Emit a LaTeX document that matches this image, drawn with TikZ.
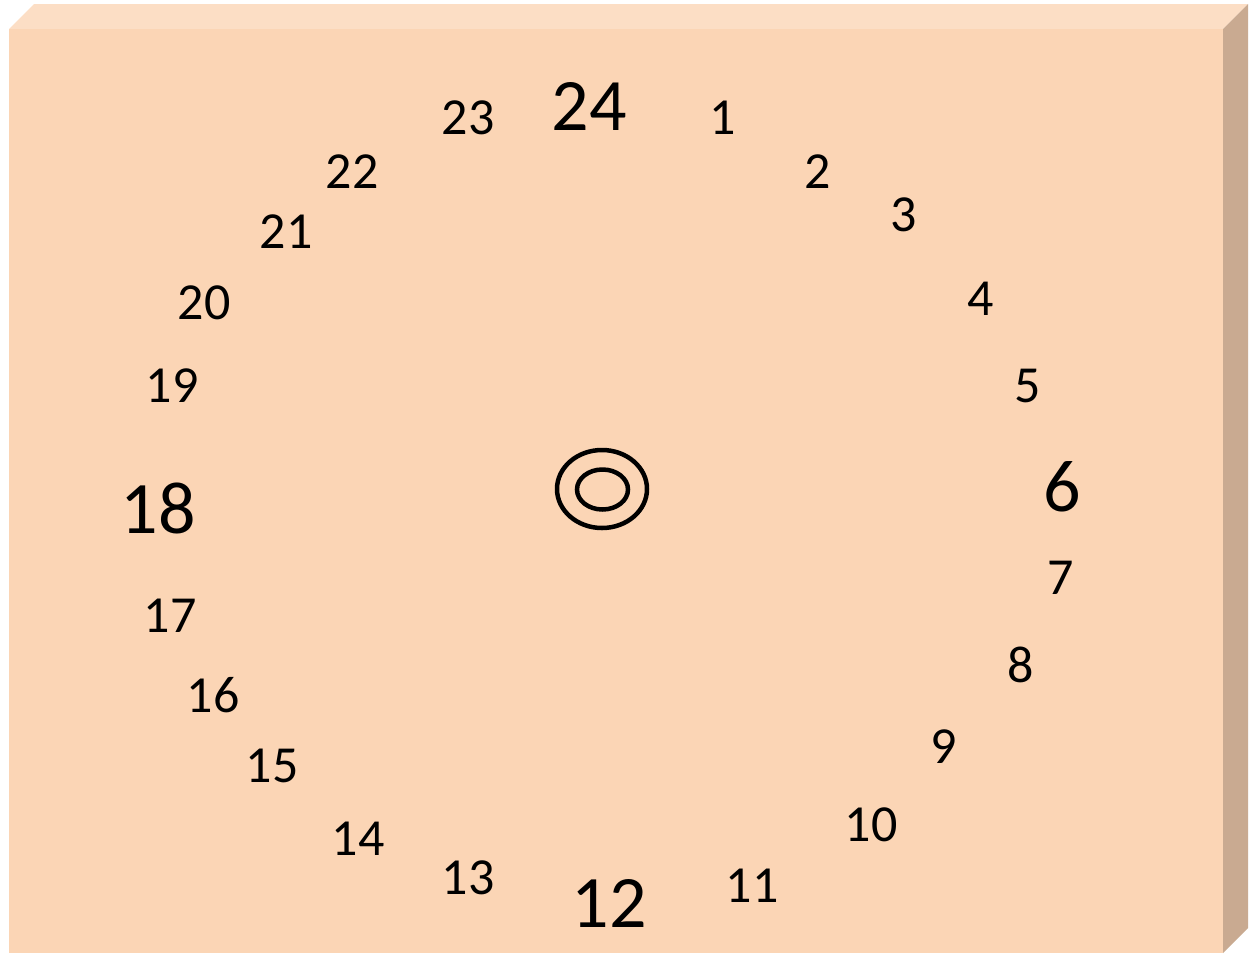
\documentclass[tikz,border=0pt]{standalone}
\usepackage{fontspec}
\setmainfont{Carlito}
\definecolor{frontc}{RGB}{251,213,181}
\definecolor{topc}{RGB}{252,222,197}
\definecolor{sidec}{RGB}{201,170,145}
\tikzset{
  num/.style={inner sep=0pt, font=\fontsize{52}{60}\selectfont},
  bignum/.style={inner sep=0pt, font=\fontsize{74}{86}\selectfont},
  ring/.style={draw=black, line width=4.5pt}
}
\begin{document}
\begin{tikzpicture}[x=1pt,y=-1pt]
\useasboundingbox (0,0) rectangle (1255,956);
% box
\fill[topc] (9,29) -- (34,4) -- (1248,4) -- (1223,29) -- cycle;
\fill[sidec] (1223,29) -- (1248,4) -- (1248,928) -- (1223,953) -- cycle;
\fill[frontc] (9,29) rectangle (1223,953);
% centre rings
\draw[ring] (602,489) ellipse [x radius=45pt, y radius=39pt];
\draw[ring] (602.5,489.5) ellipse [x radius=25.5pt, y radius=20pt];
% numbers
\node[bignum] (n24) at (589,106) {24};
\node[bignum] (n6) at (1062,487) {6};
\node[bignum] (n12) at (609,903) {12};
\node[bignum] (n18) at (158,508) {18};
\foreach \t/\x/\y in {1/723/118, 2/818/172, 3/904/215, 4/981/299, 5/1028/386,
  7/1061/578, 8/1021/665, 9/944/747, 10/871/825, 11/752/886,
  13/468/878, 14/358/839, 15/272/766, 16/213/695, 17/170/616,
  19/172/386, 20/204/303, 21/286/232, 22/352/172, 23/468/118}
  \node[num] (n\t) at (\x,\y) {\t};
\end{tikzpicture}
\end{document}
